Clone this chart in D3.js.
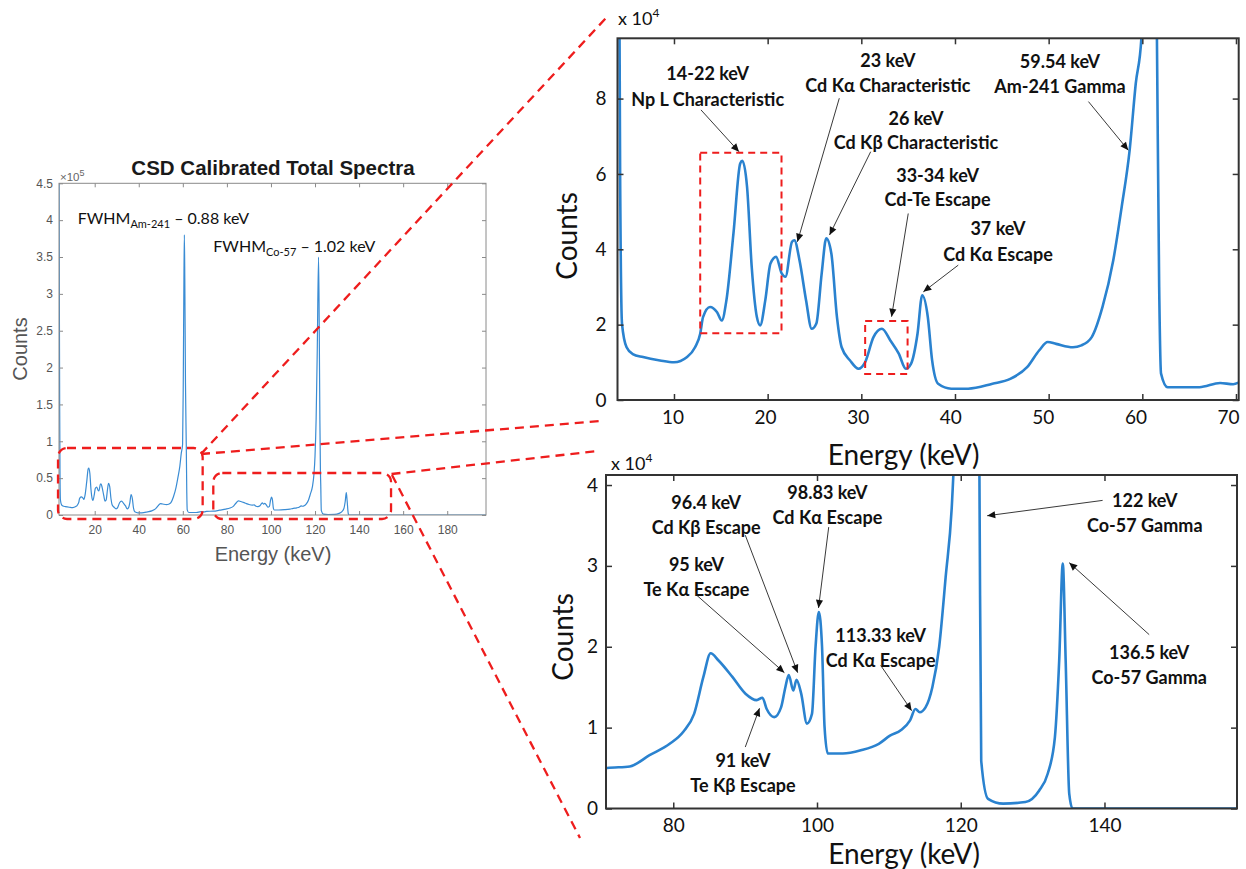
<!DOCTYPE html>
<html><head><meta charset="utf-8">
<script src="https://cdn.jsdelivr.net/npm/d3@7"></script>
<style>body{margin:0;background:#fff}svg{display:block}</style>
</head><body>
<svg id="c" width="1246" height="869"></svg>
<script>
// ---------------- DATA ----------------
const energy = [3.8,3.95,4.1,4.25,4.45,4.94,5.6,6.7,8.5,10.0,11.4,12.25,12.8,13.1,13.85,14.6,15.1,15.6,16.35,17.07,17.3,17.8,18.3,18.85,19.2,19.75,20.3,20.9,21.5,21.9,22.6,22.85,23.4,24.1,24.7,25.2,25.77,26.26,26.8,27.4,27.9,28.8,29.7,30.4,31.3,32.2,33.1,34.0,34.75,35.3,36.0,36.5,37.1,37.56,38.2,39.6,41.4,44.0,45.9,47.7,49.0,49.9,50.8,52.6,53.5,54.6,55.75,56.9,57.8,58.65,59.3,59.9,60.2,60.5,60.7,60.9,61.2,61.56,61.8,62.0,62.7,66.1,68.3,69.7,70.8,73.95,76.7,79.5,81.4,82.9,84.2,85.2,86.3,88.2,90.05,91.6,92.4,93.0,94.05,95.0,95.6,96.07,96.7,97.15,97.8,98.6,99.3,99.8,100.25,100.7,101.05,101.5,103.6,106.1,108.6,110.15,111.7,112.95,113.7,114.3,115.1,116.05,117.0,117.9,118.8,119.5,120.0,120.5,121.0,121.6,121.9,122.2,122.45,122.6,122.85,123.8,125.9,129.0,130.9,132.1,133.1,133.7,134.2,134.6,135.1,135.55,160,197.6];
const counts = [500000,300000,150000,60000,20300,14000,12200,11400,10500,10000,11400,14000,17600,22000,24700,23300,21100,26500,44200,62800,63500,56600,35300,22000,19800,26500,36200,38000,33600,32700,42000,42400,37100,26500,18900,20300,33600,42900,38900,22000,14000,10500,8300,10000,16700,18900,15800,12300,8300,9600,17600,27800,22000,10500,4300,3000,3000,4300,5600,8700,13200,15400,14900,14000,14500,16700,24700,37100,51300,66400,84000,96000,180000,320000,380000,320000,180000,96000,30000,7000,3400,3400,4500,4200,5000,5200,6600,8000,9500,11700,16300,19200,18300,16300,14200,13400,13700,12300,11300,12500,15000,16500,14600,15900,14200,10500,11700,20000,24300,20000,10100,6800,6800,7200,8000,9000,9700,10900,12300,11900,12500,15000,20000,28600,38100,55000,80000,130000,220000,350000,260000,130000,60000,41200,5900,1200,600,800,2200,4300,8800,18300,30300,18300,1800,0,0,0];

const overviewXTicks = [20,40,60,80,100,120,140,160,180];
const overviewYTicks = [0,0.5,1,1.5,2,2.5,3,3.5,4,4.5];   // x 10^5
const lowXTicks = [10,20,30,40,50,60,70];
const lowYTicks = [0,2,4,6,8];                              // x 10^4
const highXTicks = [80,100,120,140];
const highYTicks = [0,1,2,3,4];                             // x 10^4

const overviewTitle = "CSD Calibrated Total Spectra";
const fwhmLabels = [["FWHM","Am-241"," \u2013 0.88 keV"],["FWHM","Co-57"," \u2013 1.02 keV"]];
const lowPeakLabels = [
  ["14-22 keV","Np L Characteristic"],
  ["23 keV","Cd K\u03b1 Characteristic"],
  ["59.54 keV","Am-241 Gamma"],
  ["26 keV","Cd K\u03b2 Characteristic"],
  ["33-34 keV","Cd-Te Escape"],
  ["37 keV","Cd K\u03b1 Escape"]
];
const highPeakLabels = [
  ["96.4 keV","Cd K\u03b2 Escape"],
  ["98.83 keV","Cd K\u03b1 Escape"],
  ["95 keV","Te K\u03b1 Escape"],
  ["122 keV","Co-57 Gamma"],
  ["113.33 keV","Cd K\u03b1 Escape"],
  ["136.5 keV","Co-57 Gamma"],
  ["91 keV","Te K\u03b2 Escape"]
];

// ---------------- LAYOUT (data units of each panel) ----------------
// label: [E, line1 C, line2 C], arrow: [E0,C0,E1,C1]
const lowLayout = [
  {l:[13.60,8.67,7.98], a:[12.88,7.70,16.94,6.59]},
  {l:[32.84,9.02,8.36], a:[27.65,8.01,23.18,4.20]},
  {l:[51.21,9.00,8.33], a:[54.25,7.92,58.50,6.63]},
  {l:[35.84,7.49,6.84], a:[31.00,6.59,26.61,4.38]},
  {l:[38.14,5.97,5.33], a:[35.01,4.95,33.23,2.21]},
  {l:[44.59,4.56,3.87], a:[40.35,3.58,36.62,2.87]}
];
const lowBoxes = [[12.80,21.48,1.77,6.56],[30.41,34.94,0.69,2.10]];
const highLayout = [
  {l:[84.58,3.79,3.48], a:[90.02,3.38,97.31,1.68]},
  {l:[101.45,3.91,3.60], a:[101.63,3.48,100.21,2.48]},
  {l:[83.23,3.02,2.71], a:[83.23,2.64,95.46,1.68]},
  {l:[145.61,3.81,3.50], a:[139.74,3.81,123.68,3.62]},
  {l:[108.86,2.15,1.84], a:[108.86,1.77,113.17,1.21]},
  {l:[146.22,1.93,1.63], a:[146.22,2.15,135.10,3.04]},
  {l:[89.70,0.60,0.29], a:[90.02,0.76,92.00,1.24]}
];

const svg = d3.select('#c');
const defs = svg.append('defs');
defs.append('marker').attr('id','arr').attr('viewBox','0 0 10 10')
  .attr('refX',10).attr('refY',5).attr('markerWidth',10).attr('markerHeight',8)
  .attr('markerUnits','userSpaceOnUse').attr('orient','auto')
  .append('path').attr('d','M0,0.5 L10,5 L0,9.5 Z').attr('fill','#111');

const RED = '#ee1d1d';

function drawPanel(p){
  const x = d3.scaleLinear().domain(p.xDomain).range([p.left,p.right]);
  const y = d3.scaleLinear().domain(p.yDomain).range([p.bottom,p.top]);
  const id = 'clip_'+p.name;
  defs.append('clipPath').attr('id',id).append('rect')
    .attr('x',p.left).attr('y',p.top).attr('width',p.right-p.left).attr('height',p.bottom-p.top);
  const pts = energy.map((e,i)=>[e,counts[i]/p.unit]);
  const line = d3.line().x(d=>x(d[0])).y(d=>y(d[1])).curve(d3.curveMonotoneX);
  svg.append('path').attr('d',line(pts)).attr('clip-path',`url(#${id})`)
    .attr('fill','none').attr('stroke',p.lineColor).attr('stroke-width',p.lineWidth)
    .attr('stroke-linejoin','round');

  const fmt = p.yFmt || (d=>String(d));
  const axes = [
    {ax:d3.axisBottom(x).tickValues(p.xTicks).tickPadding(p.xPad).tickFormat(d=>String(d)), t:`translate(0,${p.bottom})`, bottom:true},
    {ax:d3.axisTop(x).tickValues(p.xTicks).tickFormat(''), t:`translate(0,${p.top})`},
    {ax:d3.axisLeft(y).tickValues(p.yTicks).tickPadding(p.yPad).tickFormat(fmt), t:`translate(${p.left},0)`},
    {ax:d3.axisRight(y).tickValues(p.yTicks).tickFormat(''), t:`translate(${p.right},0)`}
  ];
  axes.forEach(a=>{
    const g = svg.append('g').attr('transform',a.t)
      .call(a.ax.tickSizeInner(-p.tick).tickSizeOuter(0));
    g.select('.domain').remove();
    g.selectAll('.tick line').attr('stroke',p.frameColor).attr('stroke-width',p.tickWidth);
    const tx = g.selectAll('.tick text').attr('font-family',p.font).attr('font-size',p.tickFont)
      .attr('fill',p.textColor);
    if (a.bottom && p.xLabelShift) tx.attr('dx', d=>p.xLabelShift(d));
  });
  svg.append('rect').attr('x',p.left).attr('y',p.top).attr('width',p.right-p.left)
    .attr('height',p.bottom-p.top).attr('fill','none').attr('stroke',p.frameColor)
    .attr('stroke-width',p.frameWidth);
  return {x,y};
}

// ---------------- OVERVIEW PANEL ----------------
const ov = drawPanel({name:'ov', left:59, right:486, top:183.3, bottom:515,
  xDomain:[3.8,197.6], yDomain:[0,4.5], unit:1e5,
  xTicks:overviewXTicks, yTicks:overviewYTicks, xPad:10, yPad:6, tick:4,
  lineColor:'#3a8cd4', lineWidth:1.2, frameColor:'#8a8a8a', frameWidth:1, tickWidth:1,
  font:'"Liberation Sans", Arial, sans-serif', tickFont:12, textColor:'#555'});

svg.append('text').attr('x',273).attr('y',175).attr('text-anchor','middle')
  .attr('font-family','"Liberation Sans", Arial, sans-serif').attr('font-weight','bold')
  .attr('font-size',20.5).attr('fill','#1a1a1a').text(overviewTitle);
{
  const t = svg.append('text').attr('x',60).attr('y',181).attr('font-family','"Liberation Sans", Arial, sans-serif')
    .attr('font-size',11.5).attr('fill','#666');
  t.append('tspan').text('\u00d710');
  t.append('tspan').attr('dy',-5).attr('font-size',9).text('5');
}
svg.append('text').attr('x',273).attr('y',561).attr('text-anchor','middle')
  .attr('font-family','"Liberation Sans", Arial, sans-serif').attr('font-size',20).attr('fill','#555')
  .text('Energy (keV)');
svg.append('text').attr('transform','translate(26.5,349) rotate(-90)').attr('text-anchor','middle')
  .attr('font-family','"Liberation Sans", Arial, sans-serif').attr('font-size',20).attr('fill','#555')
  .text('Counts');
const fwhmPos = [[12.29,3.948],[73.83,3.572]];
fwhmLabels.forEach((f,i)=>{
  const t = svg.append('text').attr('x',ov.x(fwhmPos[i][0])).attr('y',ov.y(fwhmPos[i][1]))
    .attr('font-family','Lato, "Open Sans", sans-serif').attr('font-size',16).attr('fill','#111');
  t.append('tspan').text(f[0]);
  t.append('tspan').attr('dy',4).attr('font-size',11).text(f[1]);
  t.append('tspan').attr('dy',-4).text(f[2]);
});

// ---------------- LOW-ENERGY PANEL ----------------
const lo = drawPanel({name:'lo', left:617.5, right:1238.7, top:38.3, bottom:400,
  xDomain:[3.97,70.29], yDomain:[0,9.6], unit:1e4,
  xTicks:lowXTicks, yTicks:lowYTicks, xPad:11, yPad:11, tick:6,
  xLabelShift: d => -(1.5 + (d-10)/60*6.5),
  lineColor:'#2a82cf', lineWidth:2.6, frameColor:'#333', frameWidth:2, tickWidth:1.5,
  font:'Lato, "Open Sans", sans-serif', tickFont:19, textColor:'#111'});

// ---------------- HIGH-ENERGY PANEL ----------------
const hi = drawPanel({name:'hi', left:606, right:1237, top:475, bottom:808.5,
  xDomain:[70.64,158.44], yDomain:[0,4.124], unit:1e4,
  xTicks:highXTicks, yTicks:highYTicks, xPad:10, yPad:8, tick:6,
  lineColor:'#2a82cf', lineWidth:2.6, frameColor:'#333', frameWidth:2, tickWidth:1.5,
  font:'Lato, "Open Sans", sans-serif', tickFont:19, textColor:'#111'});

function expLabel(x0,yb){
  const t = svg.append('text').attr('x',x0).attr('y',yb).attr('font-family','Lato, "Open Sans", sans-serif')
    .attr('font-size',18).attr('fill','#111');
  t.append('tspan').text('x 10');
  t.append('tspan').attr('dy',-8).attr('font-size',12).text('4');
}
expLabel(618,25);
expLabel(611,470);

function axisTitles(cx,by,ryc,rbx){
  svg.append('text').attr('x',cx).attr('y',by).attr('text-anchor','middle')
    .attr('font-family','Lato, "Open Sans", sans-serif').attr('font-size',28).attr('fill','#111')
    .text('Energy (keV)');
  svg.append('text').attr('transform',`translate(${rbx},${ryc}) rotate(-90)`).attr('text-anchor','middle')
    .attr('font-family','Lato, "Open Sans", sans-serif').attr('font-size',28).attr('fill','#111')
    .text('Counts');
}
axisTitles(903.5,465,236,577);
axisTitles(904,864,637,573);

function annotate(sc, labels, layout){
  labels.forEach((lines,i)=>{
    const L = layout[i];
    lines.forEach((s,j)=>{
      svg.append('text').attr('x',sc.x(L.l[0])).attr('y',sc.y(L.l[j+1]))
        .attr('text-anchor','middle').attr('dominant-baseline','central')
        .attr('font-family','Lato, "Open Sans", sans-serif').attr('font-weight','bold')
        .attr('font-size',18).attr('fill','#111').text(s);
    });
    svg.append('line').attr('x1',sc.x(L.a[0])).attr('y1',sc.y(L.a[1]))
      .attr('x2',sc.x(L.a[2])).attr('y2',sc.y(L.a[3]))
      .attr('stroke','#222').attr('stroke-width',0.9).attr('marker-end','url(#arr)');
  });
}
annotate(lo, lowPeakLabels, lowLayout);
annotate(hi, highPeakLabels, highLayout);

lowBoxes.forEach(b=>{
  svg.append('rect').attr('x',lo.x(b[0])).attr('y',lo.y(b[3]))
    .attr('width',lo.x(b[1])-lo.x(b[0])).attr('height',lo.y(b[2])-lo.y(b[3]))
    .attr('fill','none').attr('stroke',RED).attr('stroke-width',2).attr('stroke-dasharray','7,5');
});

// ---------------- ZOOM CONNECTORS ----------------
const ovBoxes = [[3.35,69.0,-0.054,0.909],[73.83,154.5,-0.054,0.57]];
ovBoxes.forEach(b=>{
  svg.append('rect').attr('x',ov.x(b[0])).attr('y',ov.y(b[3]))
    .attr('width',ov.x(b[1])-ov.x(b[0])).attr('height',ov.y(b[2])-ov.y(b[3]))
    .attr('rx',9).attr('ry',9)
    .attr('fill','none').attr('stroke',RED).attr('stroke-width',2.3).attr('stroke-dasharray','9,6');
});
const connectors = [
  [[201,454],[606,18]],
  [[201,454],[600,421]],
  [[391.5,474],[598,451]],
  [[392,475],[580,838]]
];
connectors.forEach(c=>{
  svg.append('line').attr('x1',c[0][0]).attr('y1',c[0][1]).attr('x2',c[1][0]).attr('y2',c[1][1])
    .attr('stroke',RED).attr('stroke-width',2.3).attr('stroke-dasharray','9,6');
});
</script>
</body></html>
